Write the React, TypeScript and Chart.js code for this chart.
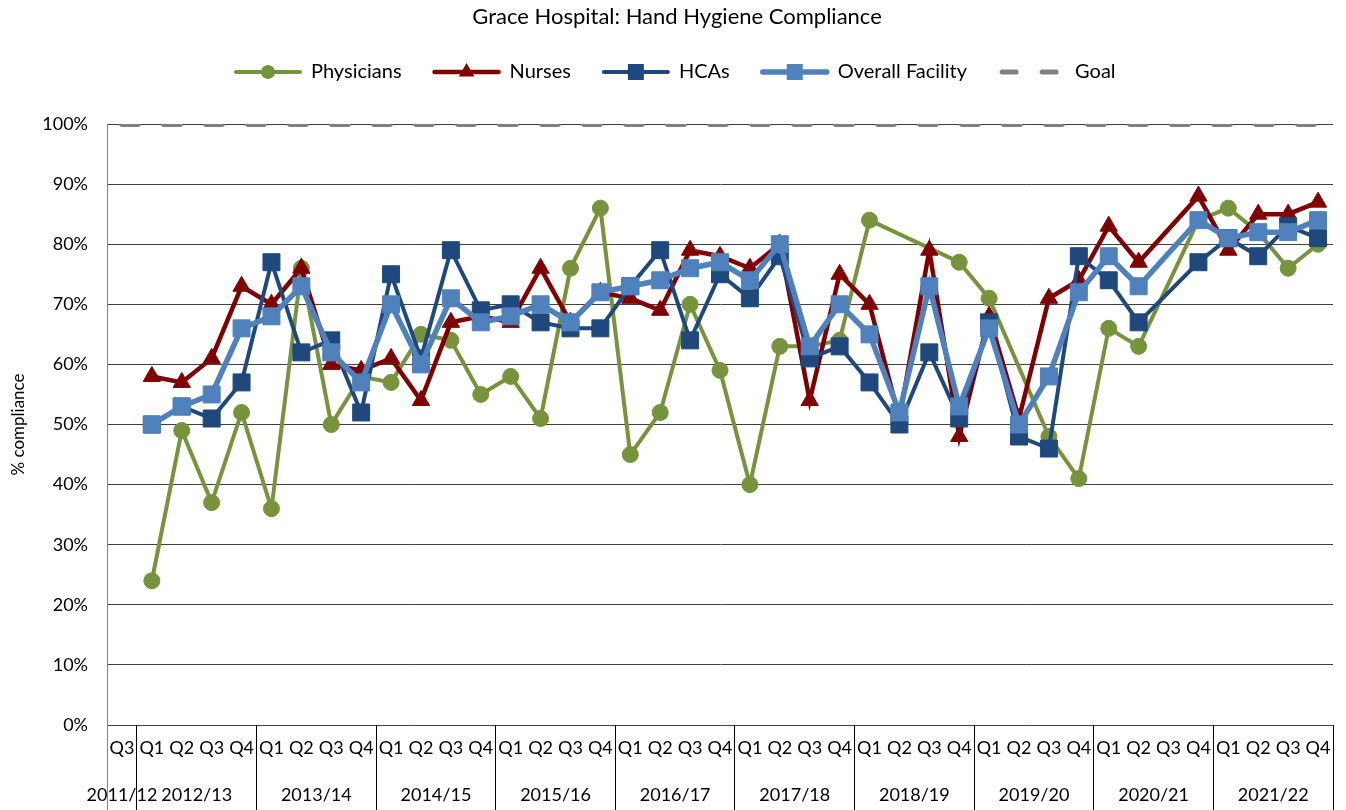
import React, { useEffect, useRef } from 'react';
import { Chart, registerables } from 'chart.js';

Chart.register(...registerables);

const FONT = 'Lato, "Open Sans", sans-serif';
const TITLE = 'Grace Hospital: Hand Hygiene Compliance';

const fiscalYears = ['2011/12', '2012/13', '2013/14', '2014/15', '2015/16', '2016/17', '2017/18', '2018/19', '2019/20', '2020/21', '2021/22'];
const firstYearQuarters = ['Q3'];
const fullYearQuarters = ['Q1', 'Q2', 'Q3', 'Q4'];

const physicians = [null, 24, 49, 37, 52, 36, 76, 50, 58, 57, 65, 64, 55, 58, 51, 76, 86, 45, 52, 70, 59, 40, 63, 63, 64, 84, null, null, 77, 71, null, 48, 41, 66, 63, null, 84, 86, 82, 76, 80];
const nurses = [null, 58, 57, 61, 73, 70, 76, 60, 59, 61, 54, 67, 68, 67, 76, 67, 72, 71, 69, 79, 78, 76, 80, 54, 75, 70, 51, 79, 48, 68, 51, 71, 74, 83, 77, null, 88, 79, 85, 85, 87];
const hcas = [null, 50, 53, 51, 57, 77, 62, 64, 52, 75, 61, 79, 69, 70, 67, 66, 66, 73, 79, 64, 75, 71, 78, 61, 63, 57, 50, 62, 51, 67, 48, 46, 78, 74, 67, null, 77, 81, 78, 83, 81];
const overall = [null, 50, 53, 55, 66, 68, 73, 62, 57, 70, 60, 71, 67, 68, 70, 67, 72, 73, 74, 76, 77, 74, 80, 63, 70, 65, 52, 73, 53, 66, 50, 58, 72, 78, 73, null, 84, 81, 82, 82, 84];
const goal = [100, 100, 100, 100, 100, 100, 100, 100, 100, 100, 100, 100, 100, 100, 100, 100, 100, 100, 100, 100, 100, 100, 100, 100, 100, 100, 100, 100, 100, 100, 100, 100, 100, 100, 100, 100, 100, 100, 100, 100, 100];

const yTicks = [0, 10, 20, 30, 40, 50, 60, 70, 80, 90, 100];

const yearQuarters = fiscalYears.map((_, i) => (i === 0 ? firstYearQuarters : fullYearQuarters));
const categories = fiscalYears.flatMap((y, i) => yearQuarters[i].map((q) => `${q} ${y}`));

const C_PHYS = '#77933C';
const C_NURSE = '#800000';
const C_HCA = '#1F497D';
const C_OVERALL = '#4F81BD';
const C_GOAL = '#808080';

type LegendItem = { label: string; color: string; style: string; lw: number; r: number };
const legendItems: LegendItem[] = [
  { label: 'Physicians', color: C_PHYS, style: 'circle', lw: 4, r: 7 },
  { label: 'Nurses', color: C_NURSE, style: 'triangle', lw: 4.5, r: 9 },
  { label: 'HCAs', color: C_HCA, style: 'rect', lw: 4, r: 8 },
  { label: 'Overall Facility', color: C_OVERALL, style: 'rect', lw: 5.5, r: 8 },
  { label: 'Goal', color: C_GOAL, style: 'dash', lw: 5, r: 0 },
];

function drawMarker(ctx: CanvasRenderingContext2D, style: string, x: number, y: number, r: number, color: string) {
  ctx.fillStyle = color;
  ctx.beginPath();
  if (style === 'circle') {
    ctx.arc(x, y, r, 0, Math.PI * 2);
  } else if (style === 'triangle') {
    ctx.moveTo(x, y - r);
    ctx.lineTo(x + r * Math.sin((2 * Math.PI) / 3), y - r * Math.cos((2 * Math.PI) / 3));
    ctx.lineTo(x + r * Math.sin((4 * Math.PI) / 3), y - r * Math.cos((4 * Math.PI) / 3));
    ctx.closePath();
  } else if (style === 'rect') {
    ctx.rect(x - r, y - r, 2 * r, 2 * r);
  }
  ctx.fill();
}

const decorPlugin = {
  id: 'decor',
  afterDraw(chart: any) {
    const ctx: CanvasRenderingContext2D = chart.ctx;
    const area = chart.chartArea;
    const xs = chart.scales.x;
    ctx.save();

    // Title
    ctx.fillStyle = '#000';
    ctx.font = `22px ${FONT}`;
    ctx.textAlign = 'center';
    ctx.textBaseline = 'middle';
    ctx.fillText(TITLE, 677, 17);

    // Legend
    ctx.font = `20px ${FONT}`;
    const sampleW = 68;
    const textGap = 9;
    const itemGap = 31;
    const widths = legendItems.map((it) => sampleW + textGap + ctx.measureText(it.label).width);
    const total = widths.reduce((a, b) => a + b, 0) + itemGap * (legendItems.length - 1);
    let lx = Math.round((1349 - total) / 2);
    const ly = 72;
    legendItems.forEach((it, i) => {
      ctx.save();
      ctx.strokeStyle = it.color;
      ctx.lineWidth = it.lw;
      ctx.lineCap = 'round';
      if (it.style === 'dash') {
        ctx.setLineDash([14, 26]);
        ctx.beginPath();
        ctx.moveTo(lx + 4, ly);
        ctx.lineTo(lx + sampleW, ly);
        ctx.stroke();
      } else {
        ctx.beginPath();
        ctx.moveTo(lx + 2, ly);
        ctx.lineTo(lx + sampleW - 2, ly);
        ctx.stroke();
        drawMarker(ctx, it.style, lx + sampleW / 2, ly, it.r, it.color);
      }
      ctx.restore();
      ctx.fillStyle = '#000';
      ctx.textAlign = 'left';
      ctx.textBaseline = 'middle';
      ctx.fillText(it.label, lx + sampleW + textGap, ly);
      lx += widths[i] + itemGap;
    });

    // Multi-level category axis
    const half = (xs.getPixelForValue(1) - xs.getPixelForValue(0)) / 2;
    const sep = (px: number, color: string) => {
      const xx = Math.floor(px) + 0.5;
      ctx.strokeStyle = color;
      ctx.lineWidth = 1;
      ctx.beginPath();
      ctx.moveTo(xx, area.bottom);
      ctx.lineTo(xx, 810);
      ctx.stroke();
    };
    sep(xs.getPixelForValue(0) - half, '#868686');
    ctx.font = `18px ${FONT}`;
    ctx.fillStyle = '#000';
    ctx.textAlign = 'center';
    ctx.textBaseline = 'middle';
    let idx = 0;
    fiscalYears.forEach((year, gi) => {
      const qs = yearQuarters[gi];
      const start = idx;
      qs.forEach((q) => {
        ctx.fillText(q, xs.getPixelForValue(idx), 748);
        idx++;
      });
      const end = idx - 1;
      const cx = (xs.getPixelForValue(start) + xs.getPixelForValue(end)) / 2;
      ctx.fillText(year, cx, 795);
      sep(xs.getPixelForValue(end) + half, '#000');
    });

    ctx.restore();
  },
};

export default function App() {
  const ref = useRef<HTMLCanvasElement>(null);
  useEffect(() => {
    document.body.style.margin = '0';
    const line = (label: string, data: (number | null)[], color: string, style: string, r: number, lw: number, order: number) => ({
      label,
      data,
      borderColor: color,
      backgroundColor: color,
      borderWidth: lw,
      pointStyle: style,
      pointRadius: r,
      pointHoverRadius: r,
      pointBackgroundColor: color,
      pointBorderColor: color,
      pointBorderWidth: 1,
      spanGaps: true,
      tension: 0,
      order,
    });
    const chart = new Chart(ref.current as HTMLCanvasElement, {
      type: 'line',
      data: {
        labels: categories,
        datasets: [
          line('Physicians', physicians, C_PHYS, 'circle', 8, 4, 5),
          line('Nurses', nurses, C_NURSE, 'triangle', 10, 4.5, 4),
          line('HCAs', hcas, C_HCA, 'rect', 12, 4, 3),
          line('Overall Facility', overall, C_OVERALL, 'rect', 12, 5.5, 2),
          {
            label: 'Goal',
            data: goal,
            borderColor: C_GOAL,
            backgroundColor: C_GOAL,
            borderWidth: 6,
            borderDash: [16, 26],
            borderCapStyle: 'round',
            pointRadius: 0,
            pointHoverRadius: 0,
            clip: 0,
            order: 1,
          } as any,
        ],
      },
      options: {
        responsive: false,
        animation: false,
        events: [],
        layout: { padding: { top: 124, left: 0, right: 9, bottom: 0 } },
        plugins: {
          legend: { display: false },
          title: { display: false },
          tooltip: { enabled: false },
        },
        scales: {
          x: {
            type: 'category',
            offset: true,
            grid: { display: false, drawTicks: false },
            border: { display: false },
            ticks: { display: false },
            afterFit: (s: any) => {
              s.height = 85;
            },
          },
          y: {
            min: 0,
            max: 100,
            afterBuildTicks: (s: any) => {
              s.ticks = yTicks.map((v) => ({ value: v }));
            },
            ticks: {
              callback: (v: any) => `${v}%`,
              font: { family: FONT, size: 18 },
              color: '#000',
              padding: 19,
            },
            grid: { color: '#404040', lineWidth: 1, drawTicks: false },
            border: { display: true, color: '#868686', width: 1 },
            title: {
              display: true,
              text: '% compliance',
              font: { family: FONT, size: 17 },
              color: '#000',
              padding: { top: 8, bottom: 0 },
            },
            afterFit: (s: any) => {
              s.width = 107;
            },
          },
        },
      },
      plugins: [decorPlugin],
    });
    return () => chart.destroy();
  }, []);
  return <canvas ref={ref} width={1346} height={810} style={{ display: 'block', width: 1346, height: 810 }} />;
}
